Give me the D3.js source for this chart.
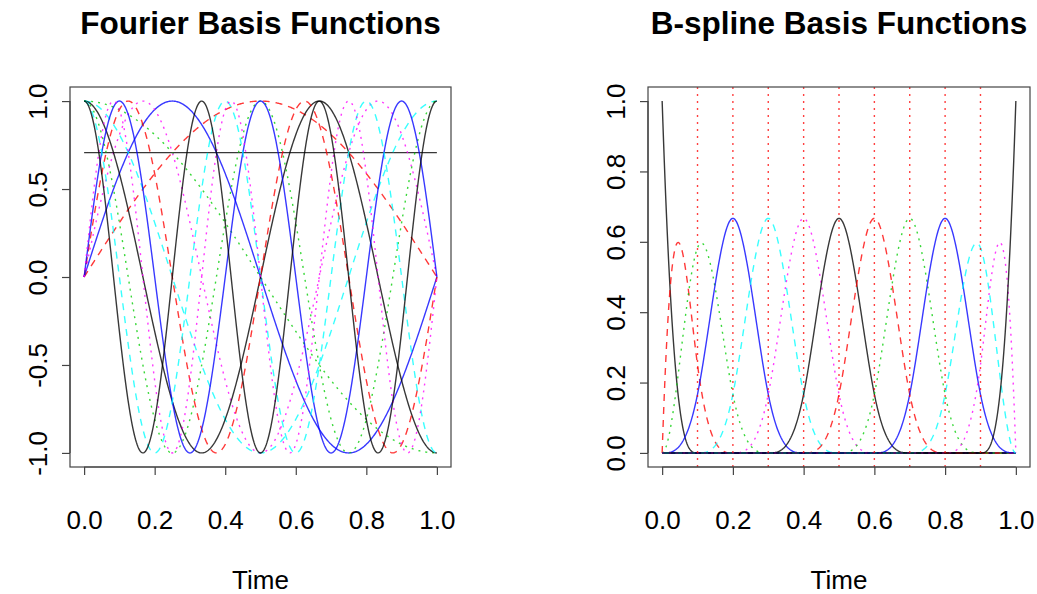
<!DOCTYPE html>
<html>
<head>
<meta charset="utf-8">
<script src="https://cdn.jsdelivr.net/npm/d3@7"></script>
<style>
  html, body { margin: 0; padding: 0; background: #fff; }
  svg { display: block; }
  text { font-family: "Liberation Sans", Arial, Helvetica, sans-serif; fill: #000; }
</style>
</head>
<body>
<svg id="chart" width="1037" height="594"></svg>
<script>
// ---------------- data ----------------
const titles = ["Fourier Basis Functions", "B-spline Basis Functions"];
const xLabel = "Time";
const timeRange = [0, 1];

// Fourier basis (period 2 on [0,1]): term type and frequency multiple of pi
const fourierTypes = ["const", "sin", "cos", "sin", "cos", "sin", "cos", "sin", "cos", "sin", "cos", "sin", "cos"];
const fourierFreqs = [0, 1, 1, 2, 2, 3, 3, 4, 4, 5, 5, 6, 6];

// B-spline basis: order 4, breaks every 0.1 -> 13 functions
const splineBreaks = [0, 0.1, 0.2, 0.3, 0.4, 0.5, 0.6, 0.7, 0.8, 0.9, 1.0];
const splineOrder = 4;
const interiorKnots = [0.1, 0.2, 0.3, 0.4, 0.5, 0.6, 0.7, 0.8, 0.9];

// axis ticks
const xTicks = [0, 0.2, 0.4, 0.6, 0.8, 1.0];
const yTicksFourier = [-1, -0.5, 0, 0.5, 1];
const yTicksSpline = [0, 0.2, 0.4, 0.6, 0.8, 1.0];

// styles (R matplot col = 1:6, lty = 1:3)
const palette = ["#000000", "#FF0000", "#00CD00", "#0000FF", "#00FFFF", "#FF00FF"];
const dashes = [null, "7,6", "2,5"];

// ---------------- evaluation ----------------
const nGrid = 501;
const grid = d3.range(nGrid).map(i => timeRange[0] + (timeRange[1] - timeRange[0]) * i / (nGrid - 1));

function fourierValue(type, k, t) {
  if (type === "const") return 1 / Math.SQRT2;
  return type === "sin" ? Math.sin(k * Math.PI * t) : Math.cos(k * Math.PI * t);
}
const fourierCurves = fourierTypes.map((ty, j) => grid.map(t => [t, fourierValue(ty, fourierFreqs[j], t)]));

// knot sequence with repeated ends
const knotSeq = [].concat(
  d3.range(splineOrder - 1).map(() => splineBreaks[0]),
  splineBreaks,
  d3.range(splineOrder - 1).map(() => splineBreaks[splineBreaks.length - 1])
);
const nSpline = splineBreaks.length + splineOrder - 2;

function bsplineAll(t) {
  const K = knotSeq, m = K.length;
  let B = [];
  for (let i = 0; i < m - 1; i++) {
    let v = (t >= K[i] && t < K[i + 1]) ? 1 : 0;
    if (t === K[m - 1] && K[i] < K[i + 1] && K[i + 1] === K[m - 1]) v = 1;
    B.push(v);
  }
  for (let k = 2; k <= splineOrder; k++) {
    const nb = [];
    for (let i = 0; i < m - k; i++) {
      let a = 0, b = 0;
      const d1 = K[i + k - 1] - K[i], d2 = K[i + k] - K[i + 1];
      if (d1 > 0) a = (t - K[i]) / d1 * B[i];
      if (d2 > 0) b = (K[i + k] - t) / d2 * B[i + 1];
      nb.push(a + b);
    }
    B = nb;
  }
  return B;
}
const splineVals = grid.map(t => bsplineAll(t));
const splineCurves = d3.range(nSpline).map(j => grid.map((t, i) => [t, splineVals[i][j]]));

// ---------------- drawing ----------------
const svg = d3.select("#chart");
const fmt = d => d.toFixed(1);

const panels = [
  { title: titles[0], box: [70, 451, 87, 467], ydom: [-1, 1], yticks: yTicksFourier, curves: fourierCurves, knots: [] },
  { title: titles[1], box: [648, 1030, 87, 467], ydom: [0, 1], yticks: yTicksSpline, curves: splineCurves, knots: interiorKnots }
];

panels.forEach(p => {
  const [x0, x1, y0, y1] = p.box;
  const xPad = 0.04 * (timeRange[1] - timeRange[0]);
  const yPad = 0.04 * (p.ydom[1] - p.ydom[0]);
  const x = d3.scaleLinear().domain([timeRange[0] - xPad, timeRange[1] + xPad]).range([x0, x1]);
  const y = d3.scaleLinear().domain([p.ydom[0] - yPad, p.ydom[1] + yPad]).range([y1, y0]);

  const g = svg.append("g");

  g.append("defs").append("clipPath").attr("id", "clip" + x0)
    .append("rect").attr("x", x0).attr("y", y0).attr("width", x1 - x0).attr("height", y1 - y0);

  const line = d3.line().x(d => x(d[0])).y(d => y(d[1]));
  const plot = g.append("g").attr("clip-path", `url(#clip${x0})`);

  p.curves.forEach((c, j) => {
    plot.append("path")
      .attr("d", line(c))
      .attr("fill", "none")
      .attr("stroke", palette[j % palette.length])
      .attr("stroke-opacity", 0.78)
      .attr("stroke-width", 1.4)
      .attr("stroke-dasharray", dashes[j % dashes.length]);
  });

  p.knots.forEach(k => {
    plot.append("line")
      .attr("x1", x(k)).attr("x2", x(k))
      .attr("y1", y0).attr("y2", y1)
      .attr("stroke", "#FF0000")
      .attr("stroke-opacity", 0.75)
      .attr("stroke-width", 1.4)
      .attr("stroke-dasharray", "2,5");
  });

  // box
  g.append("rect").attr("x", x0).attr("y", y0).attr("width", x1 - x0).attr("height", y1 - y0)
    .attr("fill", "none").attr("stroke", "#444").attr("stroke-width", 1.2);

  // x axis
  const xa = g.append("g").attr("transform", `translate(0,${y1})`)
    .call(d3.axisBottom(x).tickValues(xTicks).tickFormat(fmt).tickSize(8).tickSizeOuter(0));
  xa.select(".domain").attr("d", `M${x(xTicks[0])},0H${x(xTicks[xTicks.length - 1])}`).attr("stroke", "#444").attr("stroke-width", 1.2);
  xa.selectAll(".tick line").attr("stroke", "#444").attr("stroke-width", 1.2);
  xa.selectAll(".tick text").attr("y", 53).attr("dy", "0.35em")
    .style("font-size", "26px").style("font-family", '"Liberation Sans", Arial, sans-serif').attr("fill", "#000");

  // y axis
  const ya = g.append("g").attr("transform", `translate(${x0},0)`)
    .call(d3.axisLeft(y).tickValues(p.yticks).tickFormat(fmt).tickSize(8).tickSizeOuter(0));
  ya.select(".domain").attr("d", `M0,${y(p.yticks[0])}V${y(p.yticks[p.yticks.length - 1])}`).attr("stroke", "#444").attr("stroke-width", 1.2);
  ya.selectAll(".tick line").attr("stroke", "#444").attr("stroke-width", 1.2);
  ya.selectAll(".tick text")
    .attr("x", null)
    .attr("text-anchor", "middle")
    .attr("transform", "translate(-32,0) rotate(-90)")
    .attr("dy", "0.35em")
    .style("font-size", "26px").style("font-family", '"Liberation Sans", Arial, sans-serif').attr("fill", "#000");

  // x label
  g.append("text").attr("x", x((timeRange[0] + timeRange[1]) / 2)).attr("y", 580)
    .attr("text-anchor", "middle").attr("dy", "0.35em")
    .style("font-size", "26px").text(xLabel);

  // title
  g.append("text").attr("x", x((timeRange[0] + timeRange[1]) / 2)).attr("y", 23)
    .attr("text-anchor", "middle").attr("dy", "0.35em")
    .style("font-size", "31.5px").style("font-weight", "bold").text(p.title);
});
</script>
</body>
</html>
